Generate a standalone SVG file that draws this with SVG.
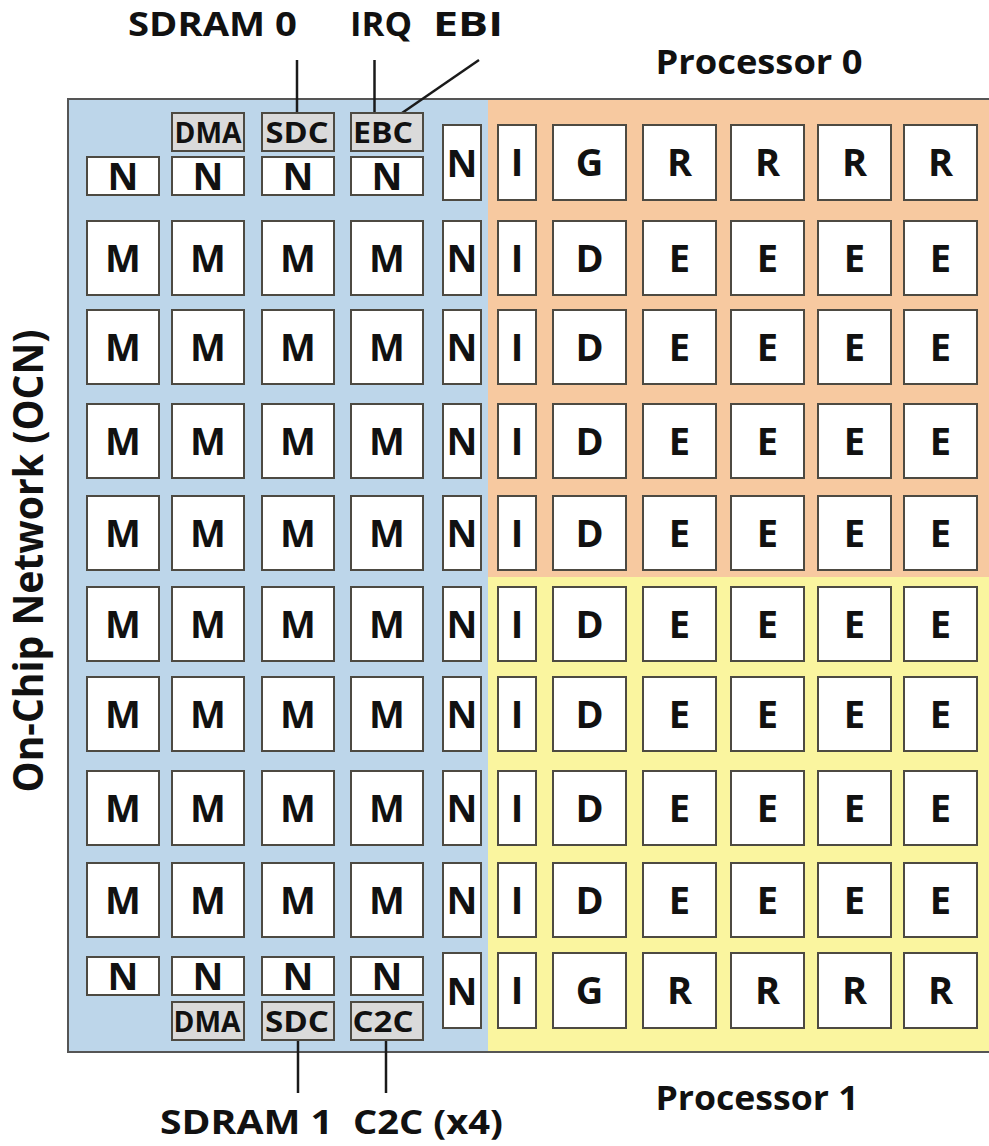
<svg xmlns="http://www.w3.org/2000/svg" width="989" height="1146" viewBox="0 0 989 1146">
<style>
.b{fill:#ffffff;stroke:#4d4a42;stroke-width:2}
.g{fill:#dadada;stroke:#4d4a42;stroke-width:2}
.t{font-family:"Open Sans","Liberation Sans",sans-serif;font-weight:bold;font-size:38px;text-anchor:middle;fill:#111}
.s{font-family:"Open Sans","Liberation Sans",sans-serif;font-weight:bold;font-size:28px;text-anchor:middle;fill:#111}
.l{font-family:"Open Sans","Liberation Sans",sans-serif;font-weight:bold;font-size:34px;text-anchor:middle;fill:#111}
.c{stroke:#1a1a1a;stroke-width:2.5;fill:none}
</style>
<g id="regions">
<rect x="68" y="99" width="420" height="953" fill="#bdd6ea"/>
<rect x="488" y="99" width="503" height="478" fill="#f7c9a0"/>
<rect x="488" y="577" width="503" height="475" fill="#faf59f"/>
<rect x="68" y="99" width="925" height="953" fill="none" stroke="#555" stroke-width="2"/>
</g>
<g id="labels">
<text class="l" x="212.5" y="36" textLength="169" lengthAdjust="spacingAndGlyphs">SDRAM 0</text>
<text class="l" x="381" y="36" textLength="62" lengthAdjust="spacingAndGlyphs">IRQ</text>
<text class="l" x="468" y="36" textLength="70" lengthAdjust="spacingAndGlyphs">EBI</text>
<text class="l" x="759" y="74" textLength="207" lengthAdjust="spacingAndGlyphs">Processor 0</text>
<text class="l" x="757" y="1110" textLength="203" lengthAdjust="spacingAndGlyphs">Processor 1</text>
<text class="l" x="246.5" y="1134" textLength="173" lengthAdjust="spacingAndGlyphs">SDRAM 1</text>
<text class="l" x="428" y="1134" textLength="150" lengthAdjust="spacingAndGlyphs">C2C (x4)</text>
<text class="l" style="font-size:41px" transform="translate(43,561) rotate(-90)" x="0" y="0" textLength="463" lengthAdjust="spacingAndGlyphs">On-Chip Network (OCN)</text>
</g>
<g id="connectors">
<line class="c" x1="297" y1="60" x2="297" y2="113"/>
<line class="c" x1="374.5" y1="60" x2="374.5" y2="113"/>
<line class="c" x1="479" y1="60" x2="402" y2="113"/>
<line class="c" x1="298" y1="1040" x2="298" y2="1093"/>
<line class="c" x1="386" y1="1040" x2="386" y2="1093"/>
</g>
<!-- Row 0 -->
<g id="dma0"><rect class="g" x="172" y="113" width="72" height="38"/><text class="s" x="208" y="143" textLength="67" lengthAdjust="spacingAndGlyphs">DMA</text></g>
<g id="sdc0"><rect class="g" x="262" y="113" width="72" height="38"/><text class="s" x="297" y="143" textLength="63" lengthAdjust="spacingAndGlyphs">SDC</text></g>
<g id="ebc0"><rect class="g" x="351" y="113" width="72" height="38"/><text class="s" x="383" y="143" textLength="60" lengthAdjust="spacingAndGlyphs">EBC</text></g>
<g id="n0c1"><rect class="b" x="87" y="157" width="72" height="38"/><text class="t" x="123" y="190">N</text></g>
<g id="n0c2"><rect class="b" x="172" y="157" width="72" height="38"/><text class="t" x="208" y="190">N</text></g>
<g id="n0c3"><rect class="b" x="262" y="157" width="72" height="38"/><text class="t" x="298" y="190">N</text></g>
<g id="n0c4"><rect class="b" x="351" y="157" width="72" height="38"/><text class="t" x="387" y="190">N</text></g>
<g id="n0c5"><rect class="b" x="443" y="125" width="38" height="75"/><text class="t" x="462" y="177">N</text></g>
<g id="i0"><rect class="b" x="498" y="125" width="38" height="75"/><text class="t" x="517" y="176">I</text></g>
<g id="g0"><rect class="b" x="553" y="125" width="73" height="75"/><text class="t" x="589.5" y="176">G</text></g>
<g id="r0c1"><rect class="b" x="643" y="125" width="73" height="75"/><text class="t" x="679.5" y="176">R</text></g>
<g id="r0c2"><rect class="b" x="731" y="125" width="73" height="75"/><text class="t" x="767.5" y="176">R</text></g>
<g id="r0c3"><rect class="b" x="818" y="125" width="73" height="75"/><text class="t" x="854.5" y="176">R</text></g>
<g id="r0c4"><rect class="b" x="904" y="125" width="73" height="75"/><text class="t" x="940.5" y="176">R</text></g>
<!-- Rows 1-8 -->
<g id="m1c1"><rect class="b" x="87" y="221" width="72" height="74"/><text class="t" x="123" y="272">M</text></g>
<g id="m1c2"><rect class="b" x="172" y="221" width="72" height="74"/><text class="t" x="208" y="272">M</text></g>
<g id="m1c3"><rect class="b" x="262" y="221" width="72" height="74"/><text class="t" x="298" y="272">M</text></g>
<g id="m1c4"><rect class="b" x="351" y="221" width="72" height="74"/><text class="t" x="387" y="272">M</text></g>
<g id="n1"><rect class="b" x="443" y="221" width="38" height="74"/><text class="t" x="462" y="272">N</text></g>
<g id="i1"><rect class="b" x="498" y="221" width="38" height="74"/><text class="t" x="517" y="272">I</text></g>
<g id="d1"><rect class="b" x="553" y="221" width="73" height="74"/><text class="t" x="589.5" y="272">D</text></g>
<g id="e1c1"><rect class="b" x="643" y="221" width="73" height="74"/><text class="t" x="679.5" y="272">E</text></g>
<g id="e1c2"><rect class="b" x="731" y="221" width="73" height="74"/><text class="t" x="767.5" y="272">E</text></g>
<g id="e1c3"><rect class="b" x="818" y="221" width="73" height="74"/><text class="t" x="854.5" y="272">E</text></g>
<g id="e1c4"><rect class="b" x="904" y="221" width="73" height="74"/><text class="t" x="940.5" y="272">E</text></g>

<g id="m2c1"><rect class="b" x="87" y="310" width="72" height="74"/><text class="t" x="123" y="361">M</text></g>
<g id="m2c2"><rect class="b" x="172" y="310" width="72" height="74"/><text class="t" x="208" y="361">M</text></g>
<g id="m2c3"><rect class="b" x="262" y="310" width="72" height="74"/><text class="t" x="298" y="361">M</text></g>
<g id="m2c4"><rect class="b" x="351" y="310" width="72" height="74"/><text class="t" x="387" y="361">M</text></g>
<g id="n2"><rect class="b" x="443" y="310" width="38" height="74"/><text class="t" x="462" y="361">N</text></g>
<g id="i2"><rect class="b" x="498" y="310" width="38" height="74"/><text class="t" x="517" y="361">I</text></g>
<g id="d2"><rect class="b" x="553" y="310" width="73" height="74"/><text class="t" x="589.5" y="361">D</text></g>
<g id="e2c1"><rect class="b" x="643" y="310" width="73" height="74"/><text class="t" x="679.5" y="361">E</text></g>
<g id="e2c2"><rect class="b" x="731" y="310" width="73" height="74"/><text class="t" x="767.5" y="361">E</text></g>
<g id="e2c3"><rect class="b" x="818" y="310" width="73" height="74"/><text class="t" x="854.5" y="361">E</text></g>
<g id="e2c4"><rect class="b" x="904" y="310" width="73" height="74"/><text class="t" x="940.5" y="361">E</text></g>

<g id="m3c1"><rect class="b" x="87" y="404" width="72" height="74"/><text class="t" x="123" y="455">M</text></g>
<g id="m3c2"><rect class="b" x="172" y="404" width="72" height="74"/><text class="t" x="208" y="455">M</text></g>
<g id="m3c3"><rect class="b" x="262" y="404" width="72" height="74"/><text class="t" x="298" y="455">M</text></g>
<g id="m3c4"><rect class="b" x="351" y="404" width="72" height="74"/><text class="t" x="387" y="455">M</text></g>
<g id="n3"><rect class="b" x="443" y="404" width="38" height="74"/><text class="t" x="462" y="455">N</text></g>
<g id="i3"><rect class="b" x="498" y="404" width="38" height="74"/><text class="t" x="517" y="455">I</text></g>
<g id="d3"><rect class="b" x="553" y="404" width="73" height="74"/><text class="t" x="589.5" y="455">D</text></g>
<g id="e3c1"><rect class="b" x="643" y="404" width="73" height="74"/><text class="t" x="679.5" y="455">E</text></g>
<g id="e3c2"><rect class="b" x="731" y="404" width="73" height="74"/><text class="t" x="767.5" y="455">E</text></g>
<g id="e3c3"><rect class="b" x="818" y="404" width="73" height="74"/><text class="t" x="854.5" y="455">E</text></g>
<g id="e3c4"><rect class="b" x="904" y="404" width="73" height="74"/><text class="t" x="940.5" y="455">E</text></g>

<g id="m4c1"><rect class="b" x="87" y="496" width="72" height="74"/><text class="t" x="123" y="547">M</text></g>
<g id="m4c2"><rect class="b" x="172" y="496" width="72" height="74"/><text class="t" x="208" y="547">M</text></g>
<g id="m4c3"><rect class="b" x="262" y="496" width="72" height="74"/><text class="t" x="298" y="547">M</text></g>
<g id="m4c4"><rect class="b" x="351" y="496" width="72" height="74"/><text class="t" x="387" y="547">M</text></g>
<g id="n4"><rect class="b" x="443" y="496" width="38" height="74"/><text class="t" x="462" y="547">N</text></g>
<g id="i4"><rect class="b" x="498" y="496" width="38" height="74"/><text class="t" x="517" y="547">I</text></g>
<g id="d4"><rect class="b" x="553" y="496" width="73" height="74"/><text class="t" x="589.5" y="547">D</text></g>
<g id="e4c1"><rect class="b" x="643" y="496" width="73" height="74"/><text class="t" x="679.5" y="547">E</text></g>
<g id="e4c2"><rect class="b" x="731" y="496" width="73" height="74"/><text class="t" x="767.5" y="547">E</text></g>
<g id="e4c3"><rect class="b" x="818" y="496" width="73" height="74"/><text class="t" x="854.5" y="547">E</text></g>
<g id="e4c4"><rect class="b" x="904" y="496" width="73" height="74"/><text class="t" x="940.5" y="547">E</text></g>

<g id="m5c1"><rect class="b" x="87" y="587" width="72" height="74"/><text class="t" x="123" y="638">M</text></g>
<g id="m5c2"><rect class="b" x="172" y="587" width="72" height="74"/><text class="t" x="208" y="638">M</text></g>
<g id="m5c3"><rect class="b" x="262" y="587" width="72" height="74"/><text class="t" x="298" y="638">M</text></g>
<g id="m5c4"><rect class="b" x="351" y="587" width="72" height="74"/><text class="t" x="387" y="638">M</text></g>
<g id="n5"><rect class="b" x="443" y="587" width="38" height="74"/><text class="t" x="462" y="638">N</text></g>
<g id="i5"><rect class="b" x="498" y="587" width="38" height="74"/><text class="t" x="517" y="638">I</text></g>
<g id="d5"><rect class="b" x="553" y="587" width="73" height="74"/><text class="t" x="589.5" y="638">D</text></g>
<g id="e5c1"><rect class="b" x="643" y="587" width="73" height="74"/><text class="t" x="679.5" y="638">E</text></g>
<g id="e5c2"><rect class="b" x="731" y="587" width="73" height="74"/><text class="t" x="767.5" y="638">E</text></g>
<g id="e5c3"><rect class="b" x="818" y="587" width="73" height="74"/><text class="t" x="854.5" y="638">E</text></g>
<g id="e5c4"><rect class="b" x="904" y="587" width="73" height="74"/><text class="t" x="940.5" y="638">E</text></g>

<g id="m6c1"><rect class="b" x="87" y="677" width="72" height="74"/><text class="t" x="123" y="728">M</text></g>
<g id="m6c2"><rect class="b" x="172" y="677" width="72" height="74"/><text class="t" x="208" y="728">M</text></g>
<g id="m6c3"><rect class="b" x="262" y="677" width="72" height="74"/><text class="t" x="298" y="728">M</text></g>
<g id="m6c4"><rect class="b" x="351" y="677" width="72" height="74"/><text class="t" x="387" y="728">M</text></g>
<g id="n6"><rect class="b" x="443" y="677" width="38" height="74"/><text class="t" x="462" y="728">N</text></g>
<g id="i6"><rect class="b" x="498" y="677" width="38" height="74"/><text class="t" x="517" y="728">I</text></g>
<g id="d6"><rect class="b" x="553" y="677" width="73" height="74"/><text class="t" x="589.5" y="728">D</text></g>
<g id="e6c1"><rect class="b" x="643" y="677" width="73" height="74"/><text class="t" x="679.5" y="728">E</text></g>
<g id="e6c2"><rect class="b" x="731" y="677" width="73" height="74"/><text class="t" x="767.5" y="728">E</text></g>
<g id="e6c3"><rect class="b" x="818" y="677" width="73" height="74"/><text class="t" x="854.5" y="728">E</text></g>
<g id="e6c4"><rect class="b" x="904" y="677" width="73" height="74"/><text class="t" x="940.5" y="728">E</text></g>

<g id="m7c1"><rect class="b" x="87" y="771" width="72" height="74"/><text class="t" x="123" y="822">M</text></g>
<g id="m7c2"><rect class="b" x="172" y="771" width="72" height="74"/><text class="t" x="208" y="822">M</text></g>
<g id="m7c3"><rect class="b" x="262" y="771" width="72" height="74"/><text class="t" x="298" y="822">M</text></g>
<g id="m7c4"><rect class="b" x="351" y="771" width="72" height="74"/><text class="t" x="387" y="822">M</text></g>
<g id="n7"><rect class="b" x="443" y="771" width="38" height="74"/><text class="t" x="462" y="822">N</text></g>
<g id="i7"><rect class="b" x="498" y="771" width="38" height="74"/><text class="t" x="517" y="822">I</text></g>
<g id="d7"><rect class="b" x="553" y="771" width="73" height="74"/><text class="t" x="589.5" y="822">D</text></g>
<g id="e7c1"><rect class="b" x="643" y="771" width="73" height="74"/><text class="t" x="679.5" y="822">E</text></g>
<g id="e7c2"><rect class="b" x="731" y="771" width="73" height="74"/><text class="t" x="767.5" y="822">E</text></g>
<g id="e7c3"><rect class="b" x="818" y="771" width="73" height="74"/><text class="t" x="854.5" y="822">E</text></g>
<g id="e7c4"><rect class="b" x="904" y="771" width="73" height="74"/><text class="t" x="940.5" y="822">E</text></g>

<g id="m8c1"><rect class="b" x="87" y="863" width="72" height="74"/><text class="t" x="123" y="914">M</text></g>
<g id="m8c2"><rect class="b" x="172" y="863" width="72" height="74"/><text class="t" x="208" y="914">M</text></g>
<g id="m8c3"><rect class="b" x="262" y="863" width="72" height="74"/><text class="t" x="298" y="914">M</text></g>
<g id="m8c4"><rect class="b" x="351" y="863" width="72" height="74"/><text class="t" x="387" y="914">M</text></g>
<g id="n8"><rect class="b" x="443" y="863" width="38" height="74"/><text class="t" x="462" y="914">N</text></g>
<g id="i8"><rect class="b" x="498" y="863" width="38" height="74"/><text class="t" x="517" y="914">I</text></g>
<g id="d8"><rect class="b" x="553" y="863" width="73" height="74"/><text class="t" x="589.5" y="914">D</text></g>
<g id="e8c1"><rect class="b" x="643" y="863" width="73" height="74"/><text class="t" x="679.5" y="914">E</text></g>
<g id="e8c2"><rect class="b" x="731" y="863" width="73" height="74"/><text class="t" x="767.5" y="914">E</text></g>
<g id="e8c3"><rect class="b" x="818" y="863" width="73" height="74"/><text class="t" x="854.5" y="914">E</text></g>
<g id="e8c4"><rect class="b" x="904" y="863" width="73" height="74"/><text class="t" x="940.5" y="914">E</text></g>
<!-- Row 9 -->
<g id="n9c1"><rect class="b" x="87" y="957" width="72" height="38"/><text class="t" x="123" y="990">N</text></g>
<g id="n9c2"><rect class="b" x="172" y="957" width="72" height="38"/><text class="t" x="208" y="990">N</text></g>
<g id="n9c3"><rect class="b" x="262" y="957" width="72" height="38"/><text class="t" x="298" y="990">N</text></g>
<g id="n9c4"><rect class="b" x="351" y="957" width="72" height="38"/><text class="t" x="387" y="990">N</text></g>
<g id="dma9"><rect class="g" x="172" y="1002" width="72" height="38"/><text class="s" x="207" y="1032" textLength="67" lengthAdjust="spacingAndGlyphs">DMA</text></g>
<g id="sdc9"><rect class="g" x="262" y="1002" width="72" height="38"/><text class="s" x="297" y="1032" textLength="64" lengthAdjust="spacingAndGlyphs">SDC</text></g>
<g id="c2c9"><rect class="g" x="351" y="1002" width="72" height="38"/><text class="s" x="383" y="1032" textLength="61" lengthAdjust="spacingAndGlyphs">C2C</text></g>
<g id="n9c5"><rect class="b" x="443" y="953" width="38" height="75"/><text class="t" x="462" y="1005">N</text></g>
<g id="i9"><rect class="b" x="498" y="953" width="38" height="75"/><text class="t" x="517" y="1004">I</text></g>
<g id="g9"><rect class="b" x="553" y="953" width="73" height="75"/><text class="t" x="589.5" y="1004">G</text></g>
<g id="r9c1"><rect class="b" x="643" y="953" width="73" height="75"/><text class="t" x="679.5" y="1004">R</text></g>
<g id="r9c2"><rect class="b" x="731" y="953" width="73" height="75"/><text class="t" x="767.5" y="1004">R</text></g>
<g id="r9c3"><rect class="b" x="818" y="953" width="73" height="75"/><text class="t" x="854.5" y="1004">R</text></g>
<g id="r9c4"><rect class="b" x="904" y="953" width="73" height="75"/><text class="t" x="940.5" y="1004">R</text></g>
</svg>
